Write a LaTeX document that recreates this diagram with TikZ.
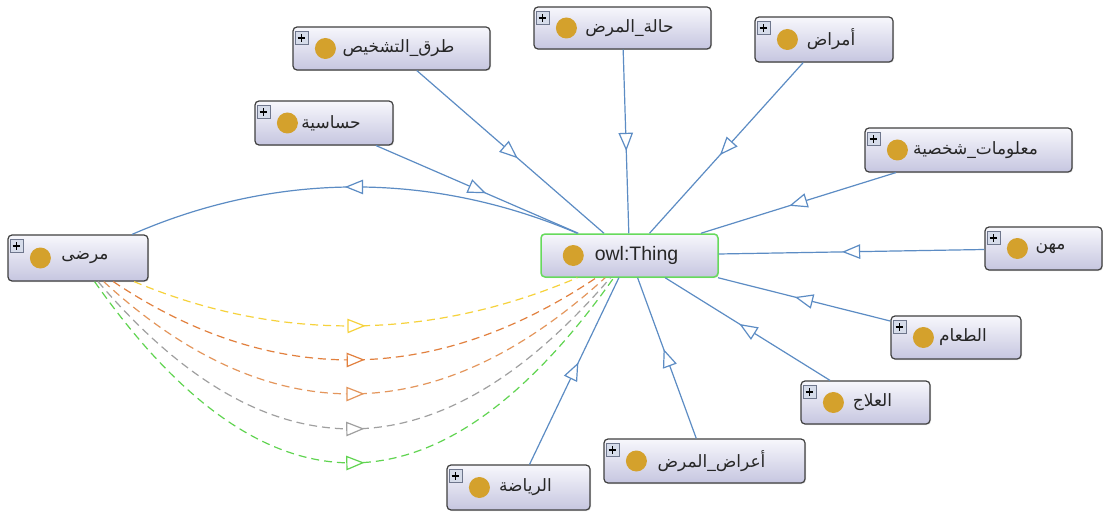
\documentclass[tikz,border=0pt]{standalone}
\usepackage{fontspec}
\setmainfont{Liberation Sans}
\newfontfamily\arfont[Script=Arabic]{DejaVu Sans}
\TeXXeTstate=1
\usetikzlibrary{calc,decorations.markings,shadows}

\definecolor{edgeblue}{RGB}{92,140,196}
\definecolor{boxedge}{RGB}{64,64,64}
\definecolor{boxtop}{RGB}{247,247,252}
\definecolor{boxbottom}{RGB}{198,198,224}
\definecolor{thinggreen}{RGB}{102,218,92}
\definecolor{dotgold}{RGB}{212,161,44}
\definecolor{plusfill}{RGB}{214,220,234}
\definecolor{plusedge}{RGB}{110,118,140}
\definecolor{dyellow}{RGB}{246,210,60}
\definecolor{dorange}{RGB}{226,128,62}
\definecolor{dorangelight}{RGB}{228,150,92}
\definecolor{dgray}{RGB}{160,160,160}
\definecolor{dgreen}{RGB}{96,212,80}

\tikzset{
  clsbox/.style={draw=boxedge, line width=1.2pt, rounded corners=4pt,
    top color=boxtop, bottom color=boxbottom, inner sep=0pt,
    drop shadow={shadow xshift=1pt, shadow yshift=-1pt, opacity=0.25}},
  plusbox/.style={draw=plusedge, fill=plusfill, line width=0.6pt,
    minimum size=13pt, inner sep=0pt,
    path picture={
      \draw[black, line width=1.6pt]
        ([xshift=-3.8pt]path picture bounding box.center) --
        ([xshift=3.8pt]path picture bounding box.center);
      \draw[black, line width=1.6pt]
        ([yshift=-3.8pt]path picture bounding box.center) --
        ([yshift=3.8pt]path picture bounding box.center);}},
  golddot/.style={circle, fill=dotgold, minimum size=21pt, inner sep=0pt},
  arlabel/.style={font=\arfont\fontsize{17}{19}\selectfont, text=black!85, inner sep=0pt},
  thinglabel/.style={font=\fontsize{19.5}{22}\selectfont, text=black!85, inner sep=0pt},
  subline/.style={draw=edgeblue, line width=1.2pt, postaction={decorate},
    decoration={markings, mark=at position 0.5 with {
      \draw[draw=edgeblue, fill=white, solid, line width=1.2pt]
        (8pt,0pt) -- (-8pt,6.5pt) -- (-8pt,-6.5pt) -- cycle;}}},
  dashline/.style={draw=#1, line width=1.2pt, dash pattern=on 8pt off 5pt,
    postaction={decorate},
    decoration={markings, mark=at position 0.5 with {
      \draw[draw=#1, fill=white, solid, line width=1.2pt]
        (8pt,0pt) -- (-8pt,6.5pt) -- (-8pt,-6.5pt) -- cycle;}}}
}

% class box: name, centre, width, height, label
\newcommand\owlclass[5]{%
  \node[clsbox, minimum width=#3pt, minimum height=#4pt] (#1) at (#2) {};
  \node[plusbox] (#1-plus) at ($(#1.north west)+(9,11.5)$) {};
  \node[golddot] (#1-dot) at ($(#1.west)+(33,0)$) {};
  \node[arlabel] (#1-text) at ($(#1.center)+(7,0)$) {\beginR #5\endR};
}

\begin{document}
\begin{tikzpicture}[x=1pt, y=-1pt]
  \fill[white] (0,0) rectangle (1103,516);
  \useasboundingbox (0,0) rectangle (1103,516);

  % root class
  \node[clsbox, draw=thinggreen, line width=1.5pt, minimum width=177pt,
        minimum height=43pt] (thing) at (629.5,255.5) {};
  \node[golddot] (thing-dot) at ($(thing.west)+(33,0)$) {};
  \node[thinglabel] (thing-text) at ($(thing.center)+(7,0)$) {owl:Thing};

  % subclasses
  \owlclass{marda}{78,258}{140}{46}{مرضى}
  \owlclass{turuq}{391.5,48.5}{197}{43}{طرق\textunderscore التشخيص}
  \owlclass{hala}{622.5,28}{177}{42}{حالة\textunderscore المرض}
  \owlclass{amrad}{824,39.5}{138}{45}{أمراض}
  \owlclass{hasasiya}{324,123}{138}{44}{حساسية}
  \owlclass{maalumat}{968.5,150}{207}{44}{معلومات\textunderscore شخصية}
  \owlclass{mihan}{1043.5,248.5}{117}{43}{مهن}
  \owlclass{taam}{956,337.5}{130}{43}{الطعام}
  \owlclass{ilaj}{865.5,402.5}{129}{43}{العلاج}
  \owlclass{aarad}{704.5,461}{201}{44}{أعراض\textunderscore المرض}
  \owlclass{riyada}{518.5,487.5}{143}{45}{الرياضة}

  % subclass links
  \foreach \c in {turuq,hala,amrad,hasasiya,maalumat,mihan,taam,ilaj,aarad,riyada}
    \draw[subline] (\c) -- (thing);
  \draw[subline] (thing) .. controls (430.7,171) and (275.7,171.7) .. (marda);

  % property links
  \draw[dashline=dyellow] (marda) .. controls (277.3,341.7) and (428.7,341) .. (thing);
  \draw[dashline=dorange] (marda) .. controls (270.7,387) and (434,386.3) .. (thing);
  \draw[dashline=dorangelight] (marda) .. controls (268.3,432.3) and (436.3,431.7) .. (thing);
  \draw[dashline=dgray] (marda) .. controls (266.3,479) and (438,478.3) .. (thing);
  \draw[dashline=dgreen] (marda) .. controls (265,524.3) and (439.7,523.7) .. (thing);
\end{tikzpicture}
\end{document}
